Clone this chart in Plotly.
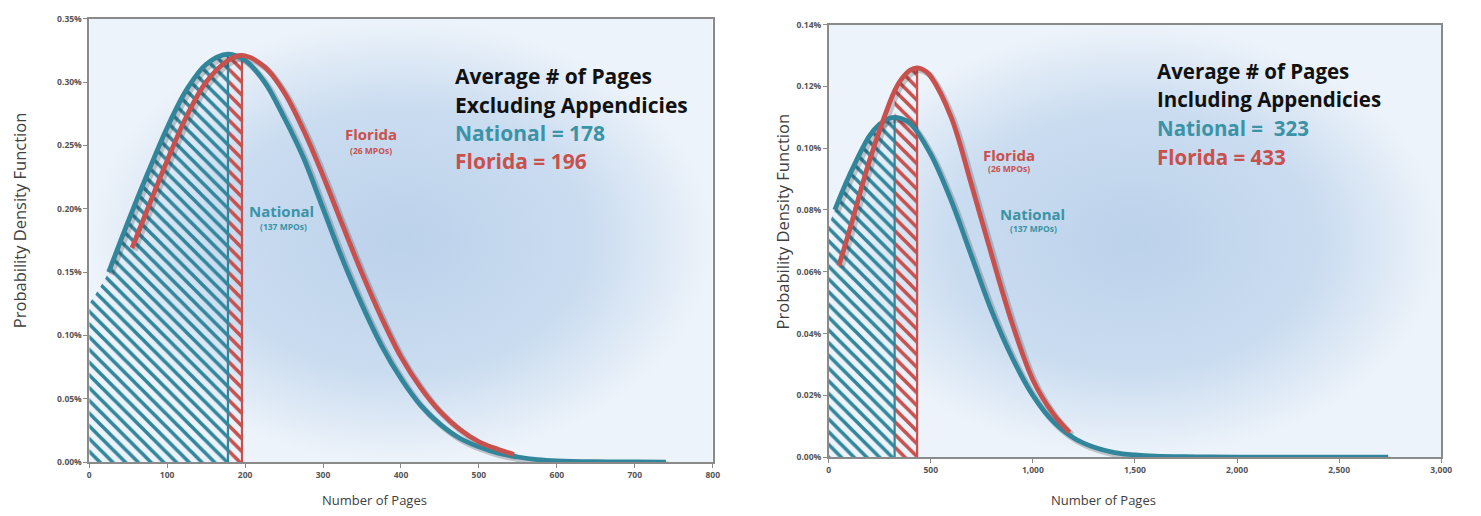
import plotly.graph_objects as go

# ---------------- data ----------------
# Excluding appendices (left panel), PDF values in percent
EXCL_NAT_MEAN = 178
EXCL_FL_MEAN = 196
EXCL_NAT_X = [0, 25, 50, 75, 100, 125, 150, 178, 200, 225, 250, 275, 300, 325, 350,
              375, 400, 425, 450, 475, 500, 525, 550, 575, 600, 650, 700, 740]
EXCL_NAT_Y = [0.125, 0.150, 0.190, 0.228, 0.264, 0.294, 0.314, 0.322, 0.317, 0.300, 0.272,
              0.240, 0.200, 0.160, 0.124, 0.092, 0.066, 0.045, 0.030, 0.019, 0.012,
              0.007, 0.004, 0.002, 0.001, 0.0003, 0.0001, 0.0]
EXCL_NAT_LINE_START = 25
EXCL_FL_X = [55, 75, 100, 125, 150, 178, 196, 225, 250, 275, 300, 325, 350, 375, 400,
             425, 450, 475, 500, 525, 545]
EXCL_FL_Y = [0.169, 0.200, 0.238, 0.273, 0.300, 0.317, 0.321, 0.312, 0.292, 0.262, 0.226,
             0.187, 0.149, 0.114, 0.083, 0.059, 0.040, 0.026, 0.016, 0.010, 0.006]

# Including appendices (right panel)
INCL_NAT_MEAN = 323
INCL_FL_MEAN = 433
INCL_NAT_X = [0, 30, 100, 200, 250, 300, 323, 350, 400, 500, 600, 700, 800, 900, 1000,
              1100, 1200, 1300, 1400, 1500, 1600, 1800, 2000, 2400, 2740]
INCL_NAT_Y = [0.075, 0.080, 0.091, 0.104, 0.1078, 0.1098, 0.110, 0.1097, 0.108, 0.098,
              0.083, 0.065, 0.047, 0.032, 0.020, 0.0115, 0.0062, 0.0032, 0.0015, 0.0007,
              0.0003, 0.0001, 0.0, 0.0, 0.0]
INCL_NAT_LINE_START = 30
INCL_FL_X = [50, 100, 200, 300, 323, 350, 400, 433, 475, 500, 600, 700, 800, 900, 1000,
             1100, 1180]
INCL_FL_Y = [0.062, 0.073, 0.096, 0.115, 0.1186, 0.1218, 0.1253, 0.126, 0.1249, 0.1232,
             0.110, 0.088, 0.065, 0.043, 0.025, 0.014, 0.008]

EXCL_X_TICKS = [0, 100, 200, 300, 400, 500, 600, 700, 800]
EXCL_Y_TICKS = [0.00, 0.05, 0.10, 0.15, 0.20, 0.25, 0.30, 0.35]
INCL_X_TICKS = [0, 500, 1000, 1500, 2000, 2500, 3000]
INCL_Y_TICKS = [0.00, 0.02, 0.04, 0.06, 0.08, 0.10, 0.12, 0.14]

# ---------------- style ----------------
W, H = 1481, 516
TEAL = "#31869b"
TEAL_TEXT = "#3a93a6"
RED = "#c8504d"
FONT = "Open Sans"
AXIS_GREY = "#8a8a8a"
SHADOW_PX = 2.5

# pixel boxes of the two plot areas: (left, right, top, bottom)
BOX_L = (88, 717, 13, 466)
BOX_R = (834, 1452, 19, 461)


def paper(px, py):
    return px / W, 1 - py / H


fig = go.Figure()


def panel(ax, xmax, ymax, nat_x, nat_y, nat_mean, nat_start, fl_x, fl_y, fl_mean):
    base = dict(xaxis=ax[0][0], yaxis=ax[0][1])
    shadow = dict(xaxis=ax[1][0], yaxis=ax[1][1])
    top = dict(xaxis=ax[2][0], yaxis=ax[2][1])

    # plot-area background with a soft radial blue wash
    fig.add_trace(go.Scatter(
        x=[0, xmax, xmax, 0, 0], y=[0, 0, ymax, ymax, 0], mode="lines",
        fill="toself", line=dict(width=0),
        fillgradient=dict(type="radial",
                          colorscale=[[0, "#bcd2eb"], [0.6, "#cadcf0"], [1, "#edf3fa"]]),
        hoverinfo="skip", **base))

    # hatched area under the national curve, up to the national mean
    hx = [x for x in nat_x if x <= nat_mean]
    hy = [y for x, y in zip(nat_x, nat_y) if x <= nat_mean]
    fig.add_trace(go.Scatter(
        x=hx, y=hy, mode="lines", line=dict(width=0, shape="spline"),
        fill="tozeroy", fillcolor="rgba(0,0,0,0)",
        fillpattern=dict(shape="\\", fgcolor=TEAL, fgopacity=1, size=9, solidity=0.4),
        hoverinfo="skip", **base))
    # hatched band between the two means, under the Florida curve
    fx = [x for x in fl_x if nat_mean <= x <= fl_mean]
    fy = [y for x, y in zip(fl_x, fl_y) if nat_mean <= x <= fl_mean]
    fig.add_trace(go.Scatter(
        x=fx, y=fy, mode="lines", line=dict(width=0, shape="spline"),
        fill="tozeroy", fillcolor="rgba(0,0,0,0)",
        fillpattern=dict(shape="\\", fgcolor=RED, fgopacity=1, size=9, solidity=0.4),
        hoverinfo="skip", **base))

    # vertical lines at the means
    nat_top = nat_y[nat_x.index(nat_mean)]
    fl_top = fl_y[fl_x.index(fl_mean)]
    fig.add_trace(go.Scatter(x=[nat_mean, nat_mean], y=[0, nat_top], mode="lines",
                             line=dict(color=TEAL, width=2.2), hoverinfo="skip", **base))
    fig.add_trace(go.Scatter(x=[fl_mean, fl_mean], y=[0, fl_top], mode="lines",
                             line=dict(color=RED, width=2.2), hoverinfo="skip", **base))

    # curves (national first, Florida on top); shadows live on a slightly offset axis pair
    lx = [x for x in nat_x if x >= nat_start]
    ly = [y for x, y in zip(nat_x, nat_y) if x >= nat_start]
    for xs, ys in ((lx, ly), (fl_x, fl_y)):
        fig.add_trace(go.Scatter(x=xs, y=ys, mode="lines",
                                 line=dict(color="rgba(30,30,40,0.22)", width=6,
                                           shape="spline"),
                                 hoverinfo="skip", **shadow))
    for xs, ys, col in ((lx, ly, TEAL), (fl_x, fl_y, RED)):
        fig.add_trace(go.Scatter(x=xs, y=ys, mode="lines",
                                 line=dict(color=col, width=4.8, shape="spline"),
                                 hoverinfo="skip", **top))


panel((("x", "y"), ("x3", "y3"), ("x5", "y5")), 800, 0.35,
      EXCL_NAT_X, EXCL_NAT_Y, EXCL_NAT_MEAN, EXCL_NAT_LINE_START,
      EXCL_FL_X, EXCL_FL_Y, EXCL_FL_MEAN)
panel((("x2", "y2"), ("x4", "y4"), ("x6", "y6")), 3000, 0.14,
      INCL_NAT_X, INCL_NAT_Y, INCL_NAT_MEAN, INCL_NAT_LINE_START,
      INCL_FL_X, INCL_FL_Y, INCL_FL_MEAN)

tickfont = dict(family=FONT, size=8.5, color="#555555", weight="bold")
axis_common = dict(showgrid=False, zeroline=False, showline=True, linecolor=AXIS_GREY,
                   linewidth=1.5, mirror=True, ticks="outside", ticklen=4,
                   tickcolor=AXIS_GREY, tickfont=tickfont)
hidden = dict(visible=False, showgrid=False, zeroline=False)


def domains(box):
    l, r, t, b = box
    return [l / W, r / W], [1 - b / H, 1 - t / H]


def short(name):
    return name.replace("axis", "")


def layout_for(box, xmax, ymax, xticks, yticks, xfmt, ids):
    xd, yd = domains(box)
    xs, ys, xs_sh, ys_sh, xs_top, ys_top = ids
    dx = xmax / (box[1] - box[0]) * SHADOW_PX
    dy = ymax / (box[3] - box[2]) * SHADOW_PX
    xr = dict(tickvals=xticks, ticktext=[xfmt(v) for v in xticks])
    yr = dict(tickvals=yticks, ticktext=[f"{v:.2f}%" for v in yticks])
    return {
        xs: dict(domain=xd, range=[0, xmax], anchor=short(ys), **xr, **axis_common),
        ys: dict(domain=yd, range=[0, ymax], anchor=short(xs), **yr, **axis_common),
        xs_sh: dict(domain=xd, range=[-dx, xmax - dx], overlaying=short(xs),
                    anchor=short(ys_sh), **hidden),
        ys_sh: dict(domain=yd, range=[dy, ymax + dy], overlaying=short(ys),
                    anchor=short(xs_sh), **hidden),
        xs_top: dict(domain=xd, range=[0, xmax], overlaying=short(xs),
                     anchor=short(ys_top), **hidden),
        ys_top: dict(domain=yd, range=[0, ymax], overlaying=short(ys),
                     anchor=short(xs_top), **hidden),
    }


lay = {}
lay.update(layout_for(BOX_L, 800, 0.35, EXCL_X_TICKS, EXCL_Y_TICKS, lambda v: f"{v}",
                      ("xaxis", "yaxis", "xaxis3", "yaxis3", "xaxis5", "yaxis5")))
lay.update(layout_for(BOX_R, 3000, 0.14, INCL_X_TICKS, INCL_Y_TICKS, lambda v: f"{v:,}",
                      ("xaxis2", "yaxis2", "xaxis4", "yaxis4", "xaxis6", "yaxis6")))

fig.update_layout(width=W, height=H, margin=dict(l=0, r=0, t=0, b=0),
                  paper_bgcolor="white", plot_bgcolor="white", showlegend=False, **lay)

ann = []


def text(x, y, s, size, color, xref, yref, bold=True, xanchor="left", angle=0):
    ann.append(dict(x=x, y=y, xref=xref, yref=yref, text=s, showarrow=False,
                    xanchor=xanchor, yanchor="middle", textangle=angle,
                    font=dict(family=FONT, size=size, color=color,
                              weight="bold" if bold else "normal")))


# headline blocks
for (xref, yref, x0, ys, size, lines) in (
    ("x", "y", 467, [0.3045, 0.2821, 0.2597, 0.2373], 21,
     [("Average # of Pages", "#111111"), ("Excluding Appendicies", "#111111"),
      (f"National = {EXCL_NAT_MEAN}", TEAL_TEXT), (f"Florida = {EXCL_FL_MEAN}", RED)]),
    ("x2", "y2", 1597, [0.1251, 0.1158, 0.1064, 0.0971], 20.5,
     [("Average # of Pages", "#111111"), ("Including Appendicies", "#111111"),
      (f"National =  {INCL_NAT_MEAN}", TEAL_TEXT), (f"Florida = {INCL_FL_MEAN}", RED)]),
):
    for yv, (s, c) in zip(ys, lines):
        text(x0, yv, s, size, c, xref, yref)

# series labels
text(361, 0.259, "Florida", 15, RED, "x", "y", xanchor="center")
text(362, 0.246, "(26 MPOs)", 8.5, RED, "x", "y", xanchor="center")
text(247, 0.198, "National", 15, TEAL_TEXT, "x", "y", xanchor="center")
text(249, 0.186, "(137 MPOs)", 8.5, TEAL_TEXT, "x", "y", xanchor="center")
text(883, 0.0979, "Florida", 15, RED, "x2", "y2", xanchor="center")
text(884, 0.0933, "(26 MPOs)", 8.5, RED, "x2", "y2", xanchor="center")
text(1000, 0.0786, "National", 15, TEAL_TEXT, "x2", "y2", xanchor="center")
text(1001, 0.0740, "(137 MPOs)", 8.5, TEAL_TEXT, "x2", "y2", xanchor="center")

# axis titles
for px, py, s, size, ang in ((17, 219, "Probability Density Function", 16.5, -90),
                             (787, 221, "Probability Density Function", 16.5, -90),
                             (376, 505, "Number of Pages", 13, 0),
                             (1111, 505, "Number of Pages", 13, 0)):
    x, y = paper(px, py)
    text(x, y, s, size, "#404040", "paper", "paper", bold=False, xanchor="center",
         angle=ang)

fig.update_layout(annotations=ann)
fig.write_html("out.html")
